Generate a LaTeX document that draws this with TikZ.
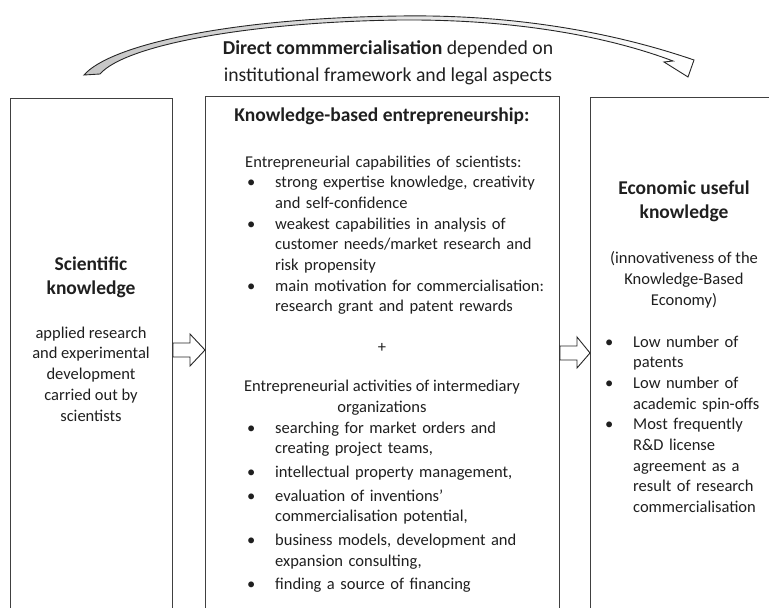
\documentclass[tikz,border=0pt]{standalone}
\usepackage{fontspec}
\setmainfont{Carlito}
\newcommand{\bitem}[1]{\par\noindent\hangindent=30pt\hangafter=1\makebox[30pt][l]{\hspace{2pt}\textbullet}#1}
\newcommand{\bitemsp}[1]{\par\vspace{3pt}\noindent\hangindent=30pt\hangafter=1\makebox[30pt][l]{\hspace{2pt}\textbullet}#1}
\begin{document}
\begin{tikzpicture}[x=1pt,y=-1pt,
  box/.style={draw=black!75, line width=0.9pt, anchor=north west, inner sep=0pt},
  body/.style={font=\fontsize{16.5}{20.7}\selectfont, text=black!88, inner sep=0pt},
  headtxt/.style={font=\fontsize{19.5}{24}\selectfont\bfseries, text=black!88, inner sep=0pt, align=center},
  barrow/.style={draw=black!85, line width=0.9pt, fill=white, line join=miter},
  curvearrow/.style={draw=black!85, line width=0.9pt, left color=gray!45, right color=white, line join=miter}]
\useasboundingbox (0,0) rectangle (769,608);
\clip (0,0) rectangle (769,608);

% boxes
\node[box, minimum width=162pt, minimum height=560pt] (sci) at (10,98) {};
\node[box, minimum width=354pt, minimum height=560pt] (keb) at (205,96) {};
\node[box, minimum width=230pt, minimum height=560pt] (econ) at (590,97) {};

% top curved arrow
\path[curvearrow] (84,75) .. controls (110,45) and (230,18) .. (400,16)
  .. controls (530,14) and (630,38) .. (694,60) -- (688,77) -- (664,62) -- (673,61)
  .. controls (620,41) and (530,19) .. (400,20)
  .. controls (250,22) and (125,45) .. (100,74) -- cycle;

\node[font=\fontsize{19.7}{27}\selectfont, text=black!88, align=center, anchor=base, inner sep=0pt] (lbl) at (388,81)
  {\textbf{Direct commmercialisation} depended on\\institutional framework and legal aspects};

% left box
\node[headtxt, anchor=base] (sciT) at (91,294) {Scientific\\knowledge};
\node[body, align=center, anchor=base] (sciB) at (91,421)
  {applied research\\and experimental\\development\\carried out by\\scientists};

% middle box
\node[headtxt, anchor=base] (kebT) at (382,121) {Knowledge-based entrepreneurship:};
\node[body, anchor=base west, text width=300pt, align=left] (cap) at (245,167)
  {Entrepreneurial capabilities of scientists:%
   \bitem{strong expertise knowledge, creativity\newline and self-confidence}%
   \bitem{weakest capabilities in analysis of\newline customer needs/market research and\newline risk propensity}%
   \bitem{main motivation for commercialisation:\newline research grant and patent rewards\par}};
\node[body, anchor=base] (plus) at (382,352) {+};
\node[body, align=center, anchor=base] (actT) at (382,412)
  {Entrepreneurial activities of intermediary\\organizations};
\node[body, anchor=base west, text width=300pt, align=left] (act) at (245,433)
  {\noindent\hangindent=30pt\hangafter=1\makebox[30pt][l]{\hspace{2pt}\textbullet}searching for market orders and\newline creating project teams,%
   \bitemsp{intellectual property management,}%
   \bitemsp{evaluation of inventions'\newline commercialisation potential,}%
   \bitemsp{business models, development and\newline expansion consulting,}%
   \bitemsp{finding a source of financing\par}};

% right box
\node[headtxt, anchor=base] (econT) at (684,218) {Economic useful\\knowledge};
\node[body, align=center, anchor=base] (econP) at (684,305)
  {(innovativeness of the\\Knowledge-Based\\Economy)};
\node[body, anchor=base west, text width=170pt, align=left] (econL) at (603,347)
  {\noindent\hangindent=30pt\hangafter=1\makebox[30pt][l]{\hspace{2pt}\textbullet}Low number of\newline patents%
   \bitem{Low number of\newline academic spin-offs}%
   \bitem{Most frequently\newline R\&D license\newline agreement as a\newline result of research\newline commercialisation\par}};

% block arrows between boxes
\draw[barrow] (sci.east |- 0,343) -- (190,343) -- (190,334) -- (keb.west |- 0,350)
  -- (190,366) -- (190,357) -- (sci.east |- 0,357) -- cycle;
\draw[barrow] (keb.east |- 0,346) -- (577,346) -- (577,337) -- (econ.west |- 0,353)
  -- (577,368) -- (577,360) -- (keb.east |- 0,360) -- cycle;
\end{tikzpicture}
\end{document}
